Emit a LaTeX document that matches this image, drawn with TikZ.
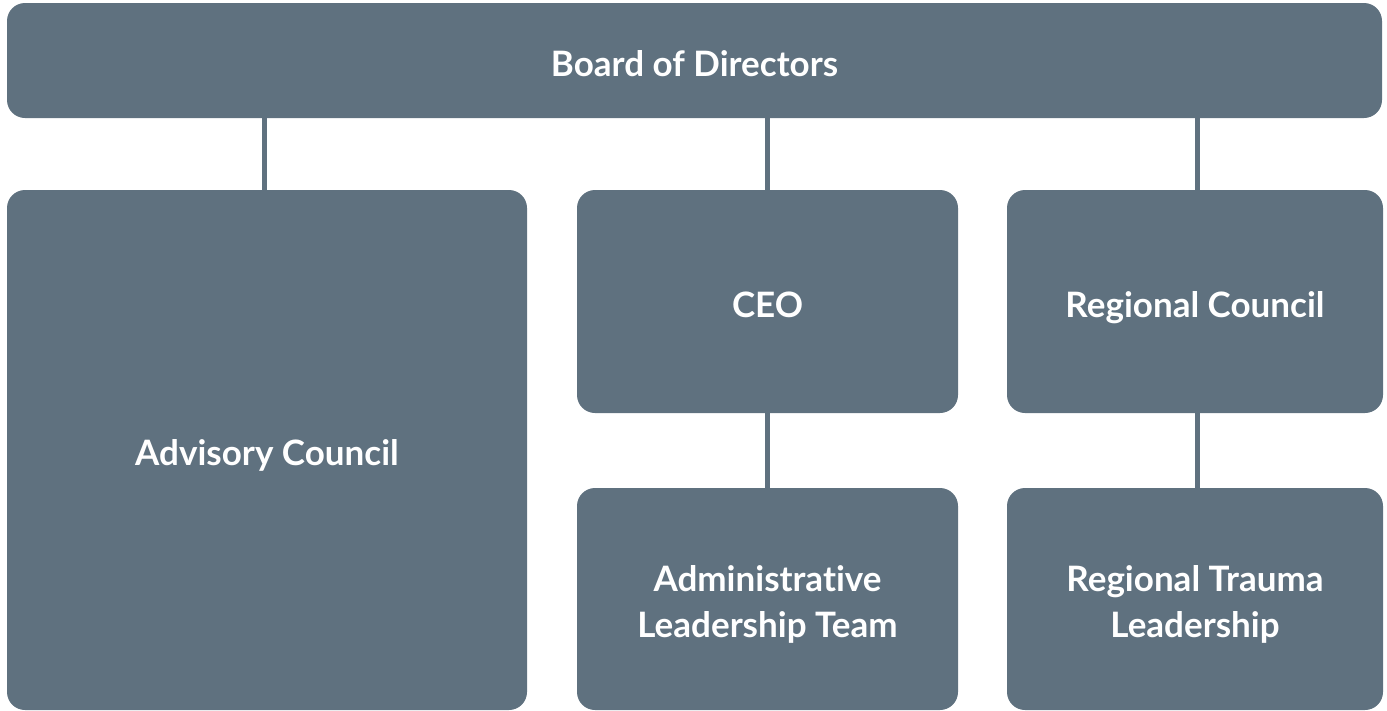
\documentclass[tikz,border=0pt]{standalone}
\usepackage{fontspec}
\setmainfont[Ligatures=NoCommon]{Lato}
\definecolor{boxc}{HTML}{5F717F}
\begin{document}
\begin{tikzpicture}[x=1pt,y=-1pt,
  orgbox/.style={fill=boxc, draw=none, rounded corners=18pt, inner sep=0pt,
    text=white, align=center, font=\fontsize{35}{46}\selectfont\bfseries},
  oneline/.style={orgbox, text height=31pt, text depth=0pt},
  twoline/.style={orgbox, text height=76pt, text depth=0pt},
  link/.style={draw=boxc, line width=5pt}]
\useasboundingbox (0,0) rectangle (1387,710);
\node[oneline, minimum width=1375pt, minimum height=115pt] (board) at (694.5,60.5) {Board of Directors};
\node[oneline, minimum width=520pt, minimum height=520pt] (adv) at (267,450) {Advisory Council};
\node[oneline, minimum width=381pt, minimum height=223pt] (ceo) at (767.5,301.5) {CEO};
\node[oneline, minimum width=376pt, minimum height=223pt] (reg) at (1195,301.5) {Regional Council};
\node[twoline, minimum width=381pt, minimum height=222pt] (alt) at (767.5,599) {Administrative\\Leadership Team};
\node[twoline, minimum width=376pt, minimum height=222pt] (rtl) at (1195,599) {Regional Trauma\\Leadership};
\draw[link] ([xshift=-3pt]adv.north) -- ([xshift=-3pt]adv.north |- board.south);
\draw[link] (ceo.north) -- (ceo.north |- board.south);
\draw[link] ([xshift=2pt]reg.north) -- ([xshift=2pt]reg.north |- board.south);
\draw[link] (ceo.south) -- (alt.north);
\draw[link] ([xshift=2pt]reg.south) -- ([xshift=2pt]rtl.north);
\end{tikzpicture}
\end{document}
